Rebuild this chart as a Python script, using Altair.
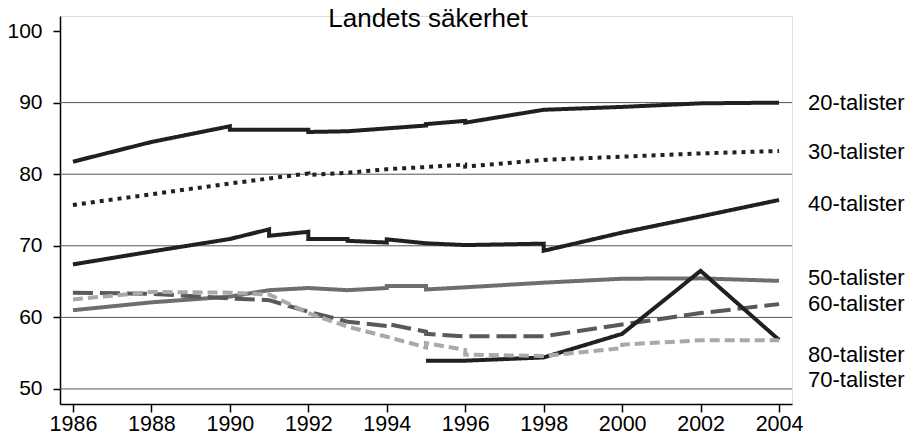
import altair as alt
import pandas as pd

# ---- data ----
series_names = ["20-talister", "30-talister", "40-talister", "50-talister",
                "60-talister", "70-talister", "80-talister"]

s20_years = [1986, 1988, 1990, 1990, 1991, 1992, 1992, 1993, 1994, 1995, 1995, 1996, 1996, 1998, 2000, 2002, 2004]
s20_vals = [81.75, 84.5, 86.7, 86.2, 86.2, 86.2, 85.9, 86.0, 86.4, 86.8, 87.0, 87.45, 87.2, 89.0, 89.4, 89.9, 90.0]

s30_years = [1986, 1988, 1990, 1992, 1992, 1993, 1994, 1995, 1996, 1996, 1998, 2000, 2002, 2004]
s30_vals = [75.7, 77.2, 78.7, 80.1, 79.9, 80.2, 80.7, 81.0, 81.35, 81.05, 82.0, 82.45, 82.9, 83.25]

s40_years = [1986, 1988, 1990, 1991, 1991, 1992, 1992, 1993, 1993, 1994, 1994, 1995, 1996, 1998, 1998, 2000, 2002, 2004]
s40_vals = [67.4, 69.2, 70.95, 72.3, 71.4, 71.95, 70.95, 70.95, 70.7, 70.45, 70.9, 70.35, 70.1, 70.3, 69.3, 71.85, 74.1, 76.4]

s50_years = [1986, 1988, 1990, 1991, 1992, 1993, 1994, 1994, 1995, 1995, 1996, 1998, 2000, 2002, 2004]
s50_vals = [61.0, 62.1, 62.9, 63.8, 64.1, 63.8, 64.1, 64.4, 64.4, 63.9, 64.2, 64.85, 65.4, 65.45, 65.1]

s60_years = [1986, 1988, 1990, 1991, 1992, 1993, 1994, 1994, 1995, 1995, 1996, 1998, 2000, 2002, 2004]
s60_vals = [63.45, 63.3, 62.65, 62.4, 60.8, 59.4, 58.8, 59.1, 58.0, 57.7, 57.35, 57.35, 59.0, 60.6, 61.85]

s70_years = [1995, 1996, 1998, 2000, 2002, 2004]
s70_vals = [53.95, 53.95, 54.4, 57.7, 66.5, 56.85]

s80_years = [1986, 1988, 1990, 1991, 1992, 1993, 1994, 1995, 1995, 1996, 1996, 1998, 2000, 2000, 2002, 2004]
s80_vals = [62.5, 63.55, 63.45, 63.2, 60.6, 58.7, 57.3, 55.8, 56.4, 55.45, 54.8, 54.6, 55.7, 56.2, 56.8, 56.8]

label_texts = ["20-talister", "30-talister", "40-talister", "50-talister",
               "60-talister", "80-talister", "70-talister"]
label_vals = [89.95, 83.1, 75.85, 65.5, 61.9, 54.75, 51.25]

x_ticks = [1986, 1988, 1990, 1992, 1994, 1996, 1998, 2000, 2002, 2004]
y_ticks = [50, 60, 70, 80, 90, 100]
grid_vals = [50, 60, 70, 80, 90]

title_text = "Landets säkerhet"

# ---- build table ----
all_years = [s20_years, s30_years, s40_years, s50_years, s60_years, s70_years, s80_years]
all_vals = [s20_vals, s30_vals, s40_vals, s50_vals, s60_vals, s70_vals, s80_vals]
rows = []
for name, ys, vs in zip(series_names, all_years, all_vals):
    for i, (yr, v) in enumerate(zip(ys, vs)):
        rows.append({"serie": name, "ord": i, "year": yr, "value": v})
df = pd.DataFrame(rows)

colors = ["#231f20", "#231f20", "#231f20", "#6d6e71", "#58595b", "#231f20", "#a7a9ac"]
dashes = [[1, 0], [4, 5], [1, 0], [1, 0], [20, 7], [1, 0], [10, 5]]
widths = [4, 4, 4, 3.5, 4, 4, 4]

FONT = "Liberation Sans"
xscale = alt.Scale(domain=[1985.67, 2004.33], nice=False, zero=False, padding=0)
yscale = alt.Scale(domain=[47.9, 102.1], nice=False, zero=False, padding=0)

x_axis = alt.Axis(values=x_ticks, format="d", title=None, grid=False,
                  labelFontSize=21.5, labelFont=FONT, labelColor="#000",
                  tickSize=8, tickColor="#000", tickWidth=1.5,
                  domainColor="#000", domainWidth=1.5, labelPadding=1,
                  labelFlush=False)
y_axis = alt.Axis(values=y_ticks, title=None, grid=False,
                  labelFontSize=21, labelFont=FONT, labelColor="#000",
                  tickSize=7, tickColor="#000", tickWidth=1.5,
                  domainColor="#000", domainWidth=1.5, labelPadding=11)

grid = alt.Chart(pd.DataFrame({"g": grid_vals})).mark_rule(
    color="#555555", strokeWidth=1
).encode(y=alt.Y("g:Q", scale=yscale, axis=y_axis))

lines = alt.Chart(df).mark_line(strokeCap="butt", strokeJoin="miter").encode(
    x=alt.X("year:Q", scale=xscale, axis=x_axis),
    y=alt.Y("value:Q", scale=yscale, axis=y_axis),
    color=alt.Color("serie:N", scale=alt.Scale(domain=series_names, range=colors), legend=None),
    strokeDash=alt.StrokeDash("serie:N", scale=alt.Scale(domain=series_names, range=dashes), legend=None),
    strokeWidth=alt.StrokeWidth("serie:N", scale=alt.Scale(domain=series_names, range=widths), legend=None),
    detail="serie:N",
    order="ord:Q",
)

lab_df = pd.DataFrame({"label": label_texts, "value": label_vals, "year": [2004] * len(label_texts)})
labels = alt.Chart(lab_df).mark_text(
    align="left", baseline="middle", dx=29, fontSize=22, font=FONT, color="#000"
).encode(
    x=alt.X("year:Q", scale=xscale, axis=x_axis),
    y=alt.Y("value:Q", scale=yscale, axis=y_axis),
    text="label:N",
)

title = alt.Chart(pd.DataFrame({"t": [title_text]})).mark_text(
    align="center", baseline="alphabetic", fontSize=26, font=FONT, color="#000"
).encode(x=alt.value(368), y=alt.value(11), text="t:N")

chart = alt.layer(grid, lines, labels, title).properties(
    width=732, height=388,
    autosize=alt.AutoSizeParams(type="none"),
    padding={"left": 52, "top": 8, "right": 115, "bottom": 33},
).configure_view(stroke=None).configure(background="white")

chart.save("out.html", embed_options={"renderer": "svg", "actions": False})
